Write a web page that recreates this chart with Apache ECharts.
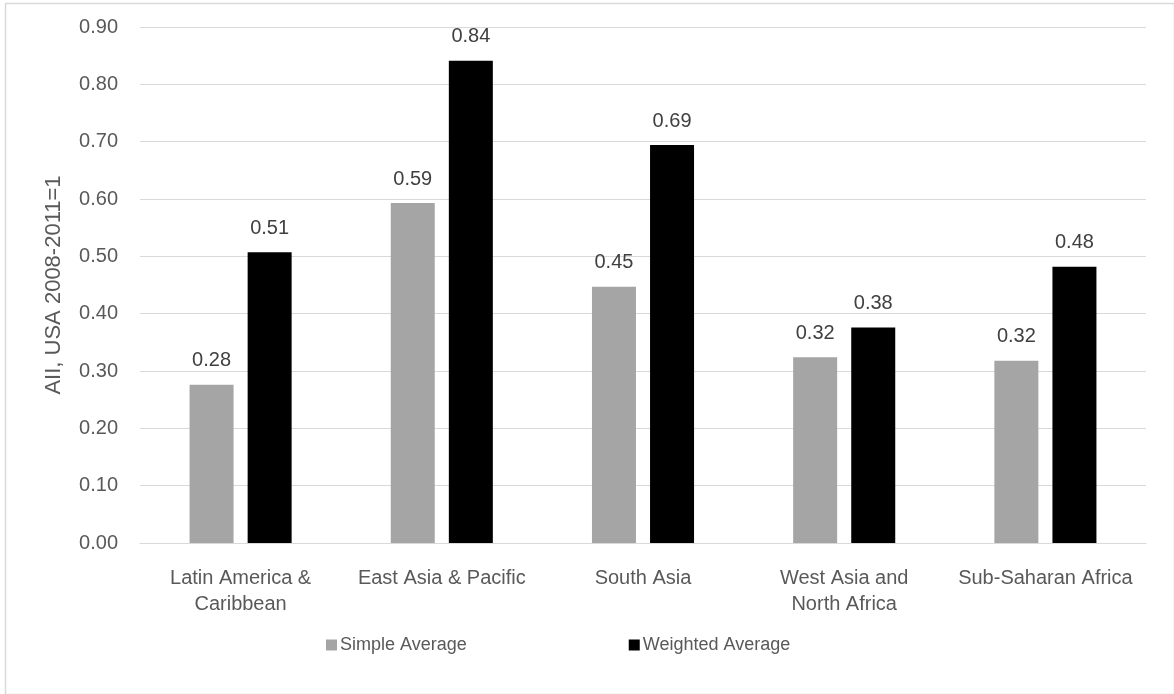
<!DOCTYPE html>
<html>
<head>
<meta charset="utf-8">
<script src="https://cdn.jsdelivr.net/npm/echarts@6/dist/echarts.min.js"></script>
<style>
  html, body { margin: 0; padding: 0; background: #fff; }
  #chart { width: 1174px; height: 694px; }
</style>
</head>
<body>
<div id="chart"></div>
<script>
// Regions shown along the category axis
const regions = [
  'Latin America &\nCaribbean',
  'East Asia & Pacific',
  'South Asia',
  'West Asia and\nNorth Africa',
  'Sub-Saharan Africa'
];

// Index values (USA 2008-2011 = 1)
const simpleAverage = [0.276, 0.593, 0.447, 0.324, 0.318];
const weightedAverage = [0.507, 0.841, 0.694, 0.376, 0.482];

const seriesNames = ['Simple Average', 'Weighted Average'];
const yTicks = { min: 0, max: 0.9, interval: 0.1 };
const yAxisTitle = 'AII, USA 2008-2011=1';

const FONT = '"Liberation Sans", Arial, sans-serif';
const chart = echarts.init(document.getElementById('chart'), null, { renderer: 'canvas' });

const labelStyle = {
  show: true,
  position: 'top',
  distance: 14,
  color: '#404040',
  fontFamily: FONT,
  fontSize: 20,
  formatter: p => p.value.toFixed(2)
};

chart.setOption({
  animation: false,
  backgroundColor: '#ffffff',
  graphic: [{
    type: 'rect',
    left: 3, top: 1,
    shape: { width: 1169, height: 691 },
    style: { fill: 'none', stroke: '#d9d9d9', lineWidth: 1.5 },
    silent: true,
    z: -1
  }],
  grid: { left: 140, right: 28, top: 27, bottom: 151, containLabel: false },
  legend: {
    left: 321,
    top: 631,
    itemWidth: 11,
    itemHeight: 11,
    itemGap: 162,
    icon: 'rect',
    textStyle: { color: '#595959', fontFamily: FONT, fontSize: 18, padding: [0, 0, 0, -2] },
    data: seriesNames
  },
  xAxis: {
    type: 'category',
    data: regions,
    axisLine: { lineStyle: { color: '#d9d9d9', width: 1 } },
    axisTick: { show: false },
    axisLabel: {
      color: '#595959',
      fontFamily: FONT,
      fontSize: 20,
      lineHeight: 26,
      margin: 22,
      interval: 0
    }
  },
  yAxis: {
    type: 'value',
    min: yTicks.min,
    max: yTicks.max,
    interval: yTicks.interval,
    name: yAxisTitle,
    nameLocation: 'middle',
    nameRotate: 90,
    nameGap: 75,
    nameTextStyle: { color: '#595959', fontFamily: FONT, fontSize: 22 },
    axisLine: { show: false },
    axisTick: { show: false },
    splitLine: { lineStyle: { color: '#d9d9d9', width: 1 } },
    axisLabel: {
      color: '#595959',
      fontFamily: FONT,
      fontSize: 20,
      margin: 22,
      formatter: v => v.toFixed(2)
    }
  },
  series: [
    {
      name: seriesNames[0],
      type: 'bar',
      data: simpleAverage,
      barWidth: 44,
      barGap: '32%',
      itemStyle: { color: '#a5a5a5' },
      label: labelStyle
    },
    {
      name: seriesNames[1],
      type: 'bar',
      data: weightedAverage,
      barWidth: 44,
      barGap: '32%',
      itemStyle: { color: '#000000' },
      label: labelStyle
    }
  ]
});
</script>
</body>
</html>
